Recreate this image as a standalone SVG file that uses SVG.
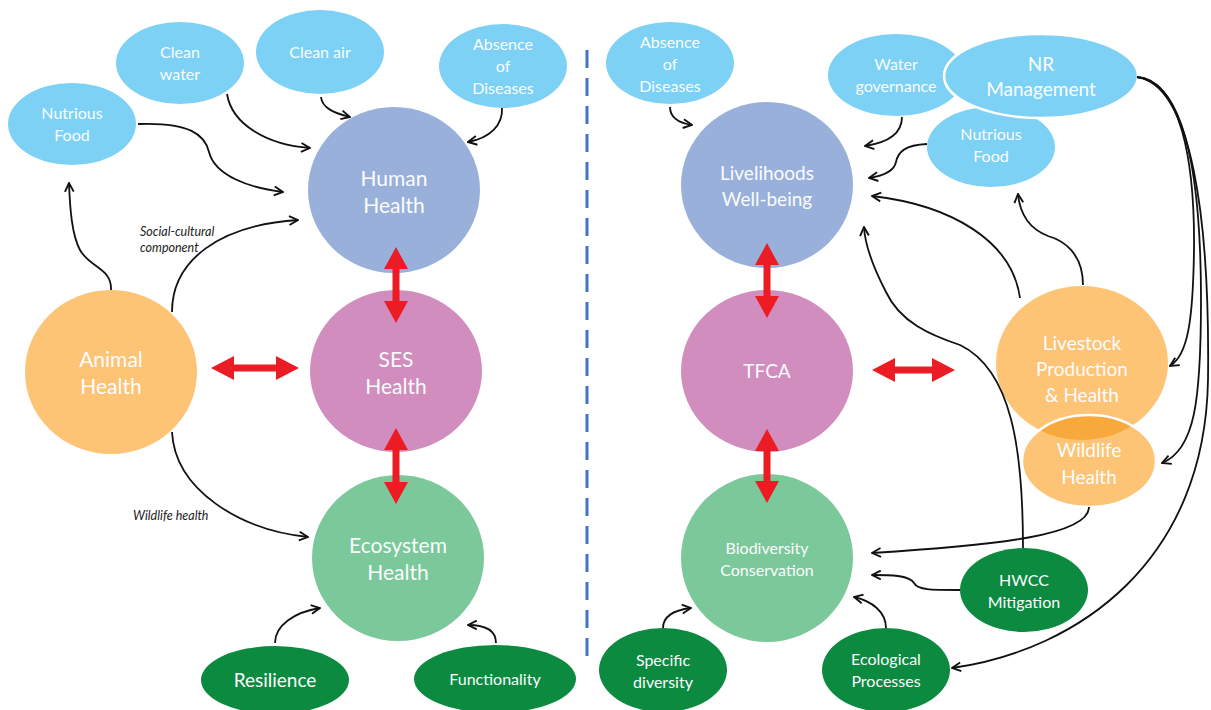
<svg xmlns="http://www.w3.org/2000/svg" width="1211" height="710" viewBox="0 0 1211 710">
<style>
text{font-family:Lato,"Open Sans","Liberation Sans",sans-serif;fill:#fbfcfe;text-anchor:middle}
.lb{fill:#7DD1F5}
.hh{fill:#98B0DA}
.ses{fill:#D08DBD}
.eco{fill:#7BC89A}
.ani{fill:#FDC475}
.dg{fill:#0B8A40}
.c{fill:none;stroke:#111;stroke-width:1.8;marker-end:url(#ah)}
.red{fill:#EC1C24}
.it{fill:#222;font-style:italic;font-size:12.5px;text-anchor:start}
.t21{font-size:21px}.t19{font-size:19px}.t16{font-size:16px}
</style>
<defs>
<marker id="ah" viewBox="0 0 10 10" refX="9" refY="5" markerWidth="11" markerHeight="11" markerUnits="userSpaceOnUse" orient="auto"><path d="M1,1 L9,5 L1,9" fill="none" stroke="#111" stroke-width="1.7"/></marker>
<clipPath id="lvclip"><ellipse cx="1082" cy="363" rx="86" ry="77"/></clipPath>
</defs>
<rect width="1211" height="710" fill="#fff"/>
<line x1="587" y1="50" x2="587" y2="658" stroke="#4472C4" stroke-width="3" stroke-dasharray="18 10"/>

<g id="nodes-left">
<g id="nutrious-food-l"><ellipse class="lb" cx="72" cy="124" rx="64" ry="41"/><text class="t16" x="72" y="119">Nutrious</text><text class="t16" x="72" y="141">Food</text></g>
<g id="clean-water"><ellipse class="lb" cx="180" cy="63" rx="64" ry="41"/><text class="t16" x="180" y="58">Clean</text><text class="t16" x="180" y="80">water</text></g>
<g id="clean-air"><ellipse class="lb" cx="320" cy="52" rx="64" ry="42"/><text class="t16" x="320" y="58">Clean air</text></g>
<g id="absence-l"><ellipse class="lb" cx="503" cy="66" rx="64" ry="42"/><text class="t16" x="503" y="50">Absence</text><text class="t16" x="503" y="72">of</text><text class="t16" x="503" y="94">Diseases</text></g>
<g id="human-health"><ellipse class="hh" cx="394" cy="190" rx="86" ry="83"/><text class="t21" x="394" y="186">Human</text><text class="t21" x="394" y="213">Health</text></g>
<g id="animal-health"><ellipse class="ani" cx="111" cy="372" rx="86" ry="82"/><text class="t21" x="111" y="367">Animal</text><text class="t21" x="111" y="394">Health</text></g>
<g id="ses-health"><ellipse class="ses" cx="396" cy="371" rx="86" ry="81"/><text class="t21" x="396" y="367">SES</text><text class="t21" x="396" y="394">Health</text></g>
<g id="ecosystem-health"><ellipse class="eco" cx="398" cy="558" rx="86" ry="83"/><text class="t21" x="398" y="553">Ecosystem</text><text class="t21" x="398" y="580">Health</text></g>
<g id="resilience"><ellipse class="dg" cx="275" cy="680" rx="74" ry="34"/><text class="t19" x="275" y="687">Resilience</text></g>
<g id="functionality"><ellipse class="dg" cx="495" cy="679" rx="81" ry="34"/><text class="t16" x="495" y="685">Functionality</text></g>
</g>

<g id="nodes-right">
<g id="absence-r"><ellipse class="lb" cx="670" cy="63" rx="64" ry="41"/><text class="t16" x="670" y="48">Absence</text><text class="t16" x="670" y="70">of</text><text class="t16" x="670" y="92">Diseases</text></g>
<g id="livelihoods"><ellipse class="hh" cx="767" cy="185" rx="86" ry="83"/><text class="t19" x="767" y="180">Livelihoods</text><text class="t19" x="767" y="206">Well-being</text></g>
<g id="water-governance"><ellipse class="lb" cx="896" cy="75" rx="68" ry="41"/><text class="t16" x="896" y="70">Water</text><text class="t16" x="896" y="92">governance</text></g>
<g id="nutrious-food-r"><ellipse class="lb" cx="991" cy="147" rx="64" ry="40"/><text class="t16" x="991" y="140">Nutrious</text><text class="t16" x="991" y="162">Food</text></g>
<g id="nr-management"><ellipse class="lb" cx="1041" cy="76" rx="97" ry="42" stroke="#fff" stroke-width="2.5"/><text class="t19" x="1041" y="71">NR</text><text class="t19" x="1041" y="96">Management</text></g>
<g id="tfca"><ellipse class="ses" cx="767" cy="371" rx="86" ry="81"/><text class="t19" x="767" y="378">TFCA</text></g>
<g id="livestock"><ellipse class="ani" cx="1082" cy="363" rx="86" ry="77"/><text class="t19" x="1082" y="350">Livestock</text><text class="t19" x="1082" y="376">Production</text><text class="t19" x="1082" y="402">&amp; Health</text></g>
<g id="wildlife-health"><ellipse class="ani" cx="1089" cy="461" rx="67" ry="46"/><ellipse cx="1089" cy="461" rx="67" ry="46" fill="#F7A93B" clip-path="url(#lvclip)"/><ellipse cx="1089" cy="461" rx="67" ry="46" fill="none" stroke="#fff" stroke-width="2.5"/><text class="t19" x="1089" y="457">Wildlife</text><text class="t19" x="1089" y="484">Health</text></g>
<g id="biodiversity"><ellipse class="eco" cx="767" cy="558" rx="86" ry="84"/><text x="767" y="554" font-size="16">Biodiversity</text><text x="767" y="576" font-size="16">Conservation</text></g>
<g id="hwcc"><ellipse class="dg" cx="1024" cy="590" rx="64" ry="42"/><text class="t16" x="1024" y="586">HWCC</text><text class="t16" x="1024" y="608">Mitigation</text></g>
<g id="specific-diversity"><ellipse class="dg" cx="663" cy="670" rx="64" ry="42"/><text class="t16" x="663" y="666">Specific</text><text class="t16" x="663" y="688">diversity</text></g>
<g id="ecological-processes"><ellipse class="dg" cx="886" cy="670" rx="64" ry="42"/><text class="t16" x="886" y="665">Ecological</text><text class="t16" x="886" y="687">Processes</text></g>
</g>

<g id="connectors">
<path class="c" d="M227,94 C232,125 268,145 310,148"/>
<path class="c" d="M321,97 C322,108 334,113 350,117"/>
<path class="c" d="M502,108 C503,125 490,138 468,142"/>
<path class="c" d="M138,124 C190,122 205,135 209,152 C215,176 250,188 283,192"/>
<path class="c" d="M111,290 C112,268 90,268 80,250 C72,235 70,210 69,183"/>
<path class="c" d="M172,312 C172,260 220,225 298,220"/>
<path class="c" d="M172,432 C175,490 240,530 308,537"/>
<path class="c" d="M275,643 C275,625 295,612 320,608"/>
<path class="c" d="M496,643 C496,630 486,625 468,625"/>

<path class="c" d="M670,107 C670,118 679,123 692,125"/>
<path class="c" d="M902,117 C902,135 885,143 865,146"/>
<path class="c" d="M927,144 C905,145 898,152 896,162 C894,172 882,176 869,178"/>
<path class="c" d="M1020,298 C1012,240 950,205 872,196"/>
<path class="c" d="M1083,285 C1083,252 1062,240 1048,236 C1030,229 1020,215 1018,194"/>
<path class="c" d="M1023,548 C1023,450 1012,370 960,345 C930,335 900,322 886,292 C872,265 865,245 864,227"/>
<path class="c" d="M1089,507 C1089,535 1000,545 872,553"/>
<path class="c" d="M960,590 C930,590 918,590 914,583 C909,575 890,575 872,575"/>
<path class="c" d="M886,628 C886,612 872,601 854,597"/>
<path class="c" d="M663,628 C663,615 675,610 691,608"/>
<path class="c" d="M1137,77 C1180,80 1195,160 1194,250 C1193,320 1188,355 1170,366"/>
<path class="c" d="M1137,77 C1186,82 1201,180 1201,300 C1201,400 1195,450 1162,463"/>
<path class="c" d="M1137,77 C1192,85 1210,220 1208,380 C1205,560 1080,650 952,668"/>

<polygon class="red" points="211,368 234,356 234,364.5 276,364.5 276,356 299,368 276,380 276,371.5 234,371.5 234,380"/>
<polygon class="red" points="872,370 895,358 895,366.5 932,366.5 932,358 955,370 932,382 932,373.5 895,373.5 895,382"/>
<polygon class="red" points="396,247 408,269 399.5,269 399.5,301 408,301 396,323 384,301 392.5,301 392.5,269 384,269"/>
<polygon class="red" points="396,428 408,450 399.5,450 399.5,482 408,482 396,504 384,482 392.5,482 392.5,450 384,450"/>
<polygon class="red" points="767,243 779,265 770.5,265 770.5,296 779,296 767,318 755,296 763.5,296 763.5,265 755,265"/>
<polygon class="red" points="767,429 779,451 770.5,451 770.5,481 779,481 767,503 755,481 763.5,481 763.5,451 755,451"/>

<text class="it" x="140" y="236">Social-cultural</text>
<text class="it" x="140" y="252">component</text>
<text class="it" x="133" y="520">Wildlife health</text>
</g>
</svg>
